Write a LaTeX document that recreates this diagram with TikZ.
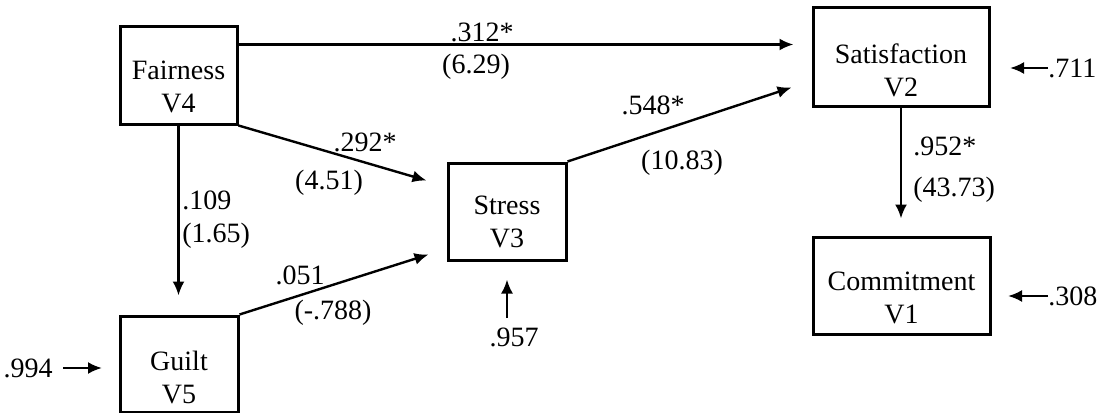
\documentclass[tikz,border=0pt]{standalone}
\usepackage{fontspec}
\setmainfont{Liberation Serif}
\usetikzlibrary{arrows.meta,calc}
\begin{document}
\begin{tikzpicture}[x=0.5pt,y=-0.5pt,
  box/.style={draw, line width=1.5pt, rectangle, inner sep=0pt},
  boxtext/.style={align=center, inner sep=0pt},
  arr/.style={line width=1.2pt, -{Latex[length=7pt,width=6pt]}},
  lbl/.style={inner sep=0pt},
  font=\fontsize{14}{16.5}\selectfont]
\useasboundingbox (0,0) rectangle (1102,412);

% boxes
\node[box, minimum width=58.5pt, minimum height=49pt,
  label={[boxtext, yshift=-6pt]center:{Fairness\\V4}}] (fair) at (178.5,75) {};
\node[box, minimum width=88pt, minimum height=49.5pt,
  label={[boxtext, yshift=-7pt]center:{Satisfaction\\V2}}] (sat) at (901,56.5) {};
\node[box, minimum width=59pt, minimum height=48.5pt,
  label={[boxtext, yshift=-5pt]center:{Stress\\V3}}] (stress) at (507,211.5) {};
\node[box, minimum width=88.5pt, minimum height=48.5pt,
  label={[boxtext, yshift=-6pt]center:{Commitment\\V1}}] (commit) at (901.5,285.5) {};
\node[box, minimum width=59pt, minimum height=48pt,
  label={[boxtext, yshift=-6.5pt]center:{Guilt\\V5}}] (guilt) at (179,364) {};

% paths between boxes
\coordinate (a1) at ([yshift=-10pt]fair.north east);
\draw[arr, shorten >=9pt] (a1) -- (a1 -| sat.west);
\draw[arr] (fair.south east) -- ([xshift=-10pt,yshift=-9.5pt]stress.north west);
\draw[arr] (guilt.north east) -- ([xshift=-9pt,yshift=3.5pt]stress.south west);
\draw[arr] (stress.north east) -- ([xshift=-10pt,yshift=10pt]sat.south west);
\draw[arr, shorten >=9.5pt] (fair.south) -- (fair.south |- guilt.north);
\draw[arr, shorten >=8.5pt] (sat.south) -- (sat.south |- commit.north);

% path labels
\node[lbl] (l1a) at (482,32) {.312*};
\node[lbl] (l1b) at (476,67) {(6.29)};
\node[lbl] (l2a) at (365,142) {.292*};
\node[lbl] (l2b) at (329,183) {(4.51)};
\node[lbl, anchor=west] (l3a) at (182,200) {.109};
\node[lbl, anchor=west] (l3b) at (182,236) {(1.65)};
\node[lbl] (l4a) at (300,275) {.051};
\node[lbl] (l4b) at (333,313) {(-.788)};
\node[lbl] (l5a) at (653,105) {.548*};
\node[lbl] (l5b) at (682,163) {(10.83)};
\node[lbl, anchor=west] (l6a) at (913,146) {.952*};
\node[lbl, anchor=west] (l6b) at (913,190) {(43.73)};

% residuals
\node[lbl, anchor=west] (e2) at (1048,68) {.711};
\coordinate (e2t) at (1010,68);
\draw[arr] (e2.west) -- (e2t);
\node[lbl, anchor=west] (e1) at (1048,296) {.308};
\coordinate (e1t) at (1008,296);
\draw[arr] (e1.west) -- (e1t);
\node[lbl, anchor=east] (e5) at (53,368) {.994};
\coordinate (e5t) at (102,368);
\draw[arr, shorten <=5pt] (e5.east) -- (e5t);
\node[lbl] (e3) at (514,337) {.957};
\coordinate (e3t) at ([yshift=-9pt]stress.south);
\draw[arr, shorten <=4.5pt] (e3.north -| e3t) -- (e3t);
\end{tikzpicture}
\end{document}
